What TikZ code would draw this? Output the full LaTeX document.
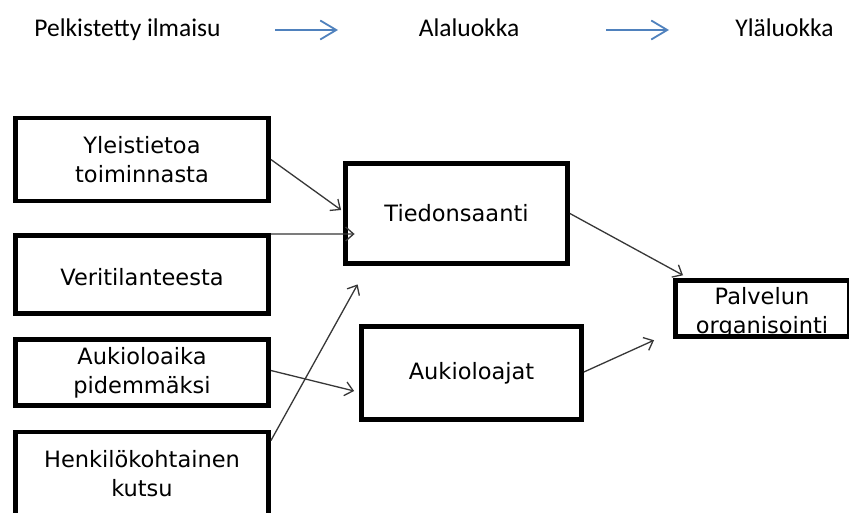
\documentclass[tikz,border=0pt]{standalone}
\usepackage{fontspec}
\setmainfont{DejaVu Sans}
\newfontfamily\headfont{Carlito}
\usetikzlibrary{arrows.meta,calc}
\definecolor{hblue}{RGB}{79,129,189}
\definecolor{arrgray}{RGB}{55,55,55}
\begin{document}
\begin{tikzpicture}[x=1pt,y=-1pt,
  box/.style={draw=black,line width=4.8pt,rectangle,inner sep=0pt,align=center,
    font=\fontsize{22.5}{29}\selectfont},
  head/.style={inner sep=0pt,anchor=base,font=\headfont\fontsize{25.5}{30}\selectfont},
  harrow/.style={draw=hblue,line width=1.8pt,-{Straight Barb[length=16pt,width=19pt,line width=1.8pt]}},
  conn/.style={draw=arrgray,line width=1.3pt,-{Straight Barb[length=8pt,width=14pt,line width=1.3pt]}}]
\useasboundingbox (0,0) rectangle (849,513);
\clip (0,0) rectangle (849,513);
\fill[white] (0,0) rectangle (849,513);
% header
\node[head] (h1) at (127.5,37) {Pelkistetty ilmaisu};
\node[head] (h2) at (469,37) {Alaluokka};
\node[head] (h3) at (784.5,37) {Yläluokka};
\coordinate (ha1s) at (275,30);
\coordinate (ha1e) at (338,30);
\coordinate (ha2s) at (606,30);
\coordinate (ha2e) at (669,30);
\draw[harrow] (ha1s) -- (ha1e);
\draw[harrow] (ha2s) -- (ha2e);
% left boxes
\node[box,minimum width=253pt,minimum height=83pt] (y1) at (142,159.5) {Yleistietoa\\toiminnasta};
\node[box,minimum width=253pt,minimum height=78pt,text height=22.6pt,text depth=0pt] (y2) at (142,274.5) {Veritilanteesta};
\node[box,minimum width=253pt,minimum height=66pt] (y3) at (142,372.5) {Aukioloaika\\pidemmäksi};
\node[box,minimum width=253pt,minimum height=84pt] (y4) at (142,474) {Henkilökohtainen\\kutsu};
% middle boxes
\node[box,minimum width=222pt,minimum height=100pt] (t) at (456.5,213.5) {Tiedonsaanti};
\node[box,minimum width=220pt,minimum height=93pt] (aj) at (471.5,373) {Aukioloajat};
% right box
\node[box,minimum width=173.5pt,minimum height=56pt,line width=4.5pt,text height=49pt,text depth=0pt] (p) at (762,308.5) {Palvelun\\organisointi};
% connectors
\draw[conn] (y1.east) -- ([yshift=3.5pt,xshift=-2pt]t.west);
\draw[conn] ([yshift=-1pt]y2.north east) -- ([xshift=11.5pt,yshift=-20.5pt]t.west);
\draw[conn] ([yshift=-11pt]y4.north east) -- ([xshift=14.5pt,yshift=-18.5pt]t.south west);
\draw[conn] ([yshift=2pt]y3.east) -- ([xshift=-5pt,yshift=-18pt]aj.west);
\draw[conn] (t.east) -- ([xshift=10pt,yshift=3pt]p.north west);
\draw[conn] ([yshift=1pt]aj.east) -- ([xshift=-19pt,yshift=-1.5pt]p.south west);
\end{tikzpicture}
\end{document}
